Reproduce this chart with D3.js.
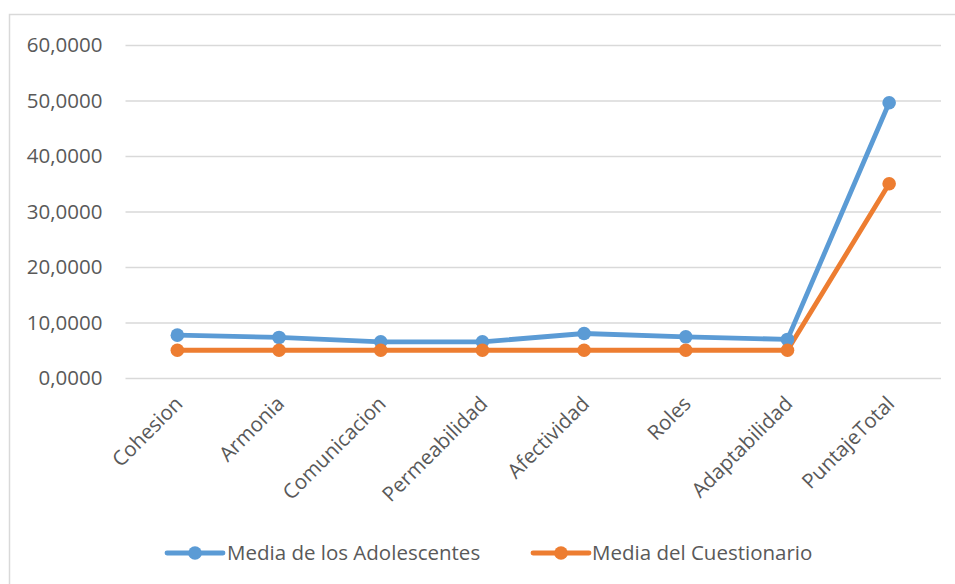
<!DOCTYPE html>
<html>
<head>
<meta charset="utf-8">
<script src="https://cdn.jsdelivr.net/npm/d3@7"></script>
<style>
html,body{margin:0;padding:0;background:#fff;}
svg text{font-family:"Open Sans","Noto Sans",sans-serif;fill:#595959;}
</style>
</head>
<body>
<svg id="chart" width="955" height="584"></svg>
<script>
const categories = ["Cohesion","Armonia","Comunicacion","Permeabilidad","Afectividad","Roles","Adaptabilidad","PuntajeTotal"];
const mediaAdolescentes = [7.72, 7.31, 6.52, 6.52, 8.02, 7.42, 6.95, 49.6];
const mediaCuestionario = [5.0, 5.0, 5.0, 5.0, 5.0, 5.0, 5.0, 35.0];
const yTicks = [0, 10, 20, 30, 40, 50, 60];
const seriesNames = ["Media de los Adolescentes", "Media del Cuestionario"];
const colors = ["#5B9BD5", "#ED7D31"];

(function () {
const svg = d3.select("#chart");
svg.append("rect").attr("x", 9.5).attr("y", 14.5).attr("width", 1000).attr("height", 1000)
  .attr("fill", "none").attr("stroke", "#D9D9D9").attr("stroke-width", 1.5);

const pL = 126.5, pR = 940, pT = 45, pB = 378;
const fs = 20.5;
const x = d3.scalePoint().domain(categories).range([pL, pR]).padding(0.5);
const y = d3.scaleLinear().domain([0, 60]).range([pB, pT]);

const fmt = v => d3.format(".4f")(v).replace(".", ",");

const yAxis = d3.axisLeft(y).tickValues(yTicks).tickSize(-(pR - pL + 2)).tickFormat(fmt).tickPadding(23);
const gy = svg.append("g").attr("transform", `translate(${pL - 1},0)`).call(yAxis);
gy.select(".domain").remove();
gy.attr("font-family", null);
gy.selectAll(".tick line").attr("stroke", "#D9D9D9").attr("stroke-width", 1.5);
gy.selectAll(".tick text").attr("font-size", fs).attr("fill", "#595959");

const xAxis = d3.axisBottom(x).tickSize(0).tickPadding(0);
const gx = svg.append("g").attr("transform", `translate(0,${pB})`).call(xAxis);
gx.select(".domain").remove();
gx.attr("font-family", null);
gx.selectAll(".tick text")
  .attr("font-size", fs)
  .attr("fill", "#595959")
  .attr("text-anchor", "end")
  .attr("dy", 0)
  .attr("y", 0)
  .attr("transform", "translate(6,27) rotate(-45)");

const seriesData = [mediaAdolescentes, mediaCuestionario];
const line = d3.line().x((d, i) => x(categories[i])).y(d => y(d));

seriesData.forEach((vals, s) => {
  svg.append("path").datum(vals).attr("d", line)
    .attr("fill", "none").attr("stroke", colors[s]).attr("stroke-width", 4.8)
    .attr("stroke-linejoin", "round").attr("stroke-linecap", "round");
});
seriesData.forEach((vals, s) => {
  svg.append("g").selectAll("circle").data(vals).join("circle")
    .attr("cx", (d, i) => x(categories[i])).attr("cy", d => y(d)).attr("r", 6.8)
    .attr("fill", colors[s]);
});

const legendItems = [{x0: 167, x1: 223, tx: 227}, {x0: 533, x1: 589, tx: 592}];
const ly = 553;
legendItems.forEach((it, s) => {
  const g = svg.append("g");
  g.append("line").attr("x1", it.x0).attr("x2", it.x1).attr("y1", ly).attr("y2", ly)
    .attr("stroke", colors[s]).attr("stroke-width", 4.8).attr("stroke-linecap", "round");
  g.append("circle").attr("cx", (it.x0 + it.x1) / 2).attr("cy", ly).attr("r", 6.8).attr("fill", colors[s]);
  g.append("text").attr("x", it.tx).attr("y", ly).attr("dy", "0.35em")
    .attr("font-size", fs).text(seriesNames[s]);
});
})();
</script>
</body>
</html>
